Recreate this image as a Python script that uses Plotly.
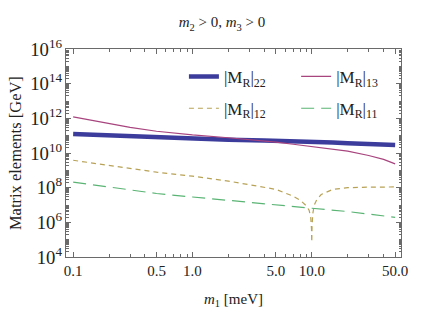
import plotly.graph_objects as go

# m1 [meV] grid and matrix elements [GeV]
m1 = [0.1, 0.2, 0.3, 0.5, 1.0, 2.0, 4.0, 5.0, 7.0, 10.0, 15.0, 20.0, 30.0, 40.0, 50.0]
mr22 = [1.23e11, 1.0e11, 9.0e10, 7.6e10, 6.5e10, 5.8e10, 5.2e10, 5.1e10, 4.8e10, 4.5e10, 4.1e10,
        3.7e10, 3.3e10, 3.1e10, 2.9e10]
mr13 = [1.2e12, 5.2e11, 3.0e11, 1.8e11, 1.1e11, 7.6e10, 5.0e10, 4.2e10, 3.2e10, 2.35e10, 1.74e10,
        1.29e10, 7.2e9, 4.3e9, 2.35e9]

m1_12 = [0.1, 0.2, 0.5, 1.0, 2.0, 5.0, 7.0, 8.0, 9.0, 9.5, 9.8, 9.95, 10.0,
         10.05, 10.2, 10.5, 11.0, 12.0, 15.0, 20.0, 30.0, 50.0]
mr12 = [3.8e9, 2.0e9, 7.8e8, 4.6e8, 2.4e8, 8.0e7, 3.2e7, 1.9e7, 9.0e6, 5.0e6, 2.0e6, 4.0e5, 7.2e4,
        5.0e5, 3.2e6, 1.0e7, 2.0e7, 4.0e7, 8.0e7, 1.0e8, 1.07e8, 1.1e8]

m1_11 = [0.1, 0.2, 0.5, 1.0, 2.0, 5.0, 10.0, 20.0, 50.0]
mr11 = [2.1e8, 1.1e8, 4.6e7, 2.9e7, 1.8e7, 1.0e7, 6.5e6, 4.2e6, 1.95e6]

x_ticks = [0.1, 0.5, 1.0, 5.0, 10.0, 50.0]
x_ticklabels = ["0.1", "0.5", "1.0", "5.0", "10.0", "50.0"]
x_minor = [0.2, 0.3, 0.4, 0.6, 0.7, 0.8, 0.9, 2, 3, 4, 6, 7, 8, 9, 20, 30, 40]

FONT = "Liberation Serif"
FRAME = "#6a6a6a"

fig = go.Figure()
fig.add_trace(go.Scatter(x=m1, y=mr22, mode="lines", name="|M<sub>R</sub>|<sub>22</sub>",
                         line=dict(color="#3c3c9c", width=4.5), legend="legend"))
fig.add_trace(go.Scatter(x=m1, y=mr13, mode="lines", name="|M<sub>R</sub>|<sub>13</sub>",
                         line=dict(color="#a8447e", width=1.2), legend="legend2"))
fig.add_trace(go.Scatter(x=m1_12, y=mr12, mode="lines", name="|M<sub>R</sub>|<sub>12</sub>",
                         line=dict(color="#b8a256", width=1.2, dash="5px,4px"), legend="legend3"))
fig.add_trace(go.Scatter(x=m1_11, y=mr11, mode="lines", name="|M<sub>R</sub>|<sub>11</sub>",
                         line=dict(color="#5ab474", width=1.2, dash="13px,7px"), legend="legend4"))

leg = dict(xanchor="left", yanchor="middle", bgcolor="rgba(0,0,0,0)",
           font=dict(family=FONT, size=17, color="#222"))

# page body adds an 8px margin, so the figure is sized to fit inside the window
fig.update_layout(
    width=428, height=316,
    margin=dict(l=58, r=35, t=41, b=67, autoexpand=False),
    paper_bgcolor="white", plot_bgcolor="white",
    showlegend=True,
    font=dict(family=FONT, size=15, color="#222"),
    title=dict(text="<i>m</i><sub>2</sub> > 0, <i>m</i><sub>3</sub> > 0", x=0.5, xanchor="center",
               y=0.955, yanchor="middle", font=dict(size=15)),
    legend=dict(x=0.352, y=0.866, **leg),
    legend2=dict(x=0.687, y=0.866, **leg),
    legend3=dict(x=0.352, y=0.713, **leg),
    legend4=dict(x=0.687, y=0.713, **leg),
    xaxis=dict(type="log", range=[-1.06, 1.748], tickvals=x_ticks, ticktext=x_ticklabels,
               ticks="inside", ticklen=5, tickcolor=FRAME, showline=True, linecolor=FRAME,
               linewidth=1, mirror="allticks", showgrid=False, zeroline=False,
               tickfont=dict(size=15), automargin=False,
               minor=dict(tickvals=x_minor, ticks="inside", ticklen=3, tickcolor=FRAME, showgrid=False),
               title=dict(text="<i>m</i><sub>1</sub> [meV]", font=dict(size=15), standoff=15)),
    yaxis=dict(type="log", range=[4, 16], dtick=2, exponentformat="power",
               ticks="inside", ticklen=5, tickcolor=FRAME, showline=True, linecolor=FRAME,
               linewidth=1, mirror="allticks", showgrid=False, zeroline=False,
               tickfont=dict(size=15), automargin=False,
               minor=dict(dtick="D1", ticks="inside", ticklen=2.5, tickcolor=FRAME, showgrid=False)),
)
fig.add_annotation(text="Matrix elements [GeV]", textangle=-90, xref="paper", yref="paper",
                   x=-0.152, y=0.5, xanchor="center", yanchor="middle", showarrow=False,
                   font=dict(family=FONT, size=16.5, color="#222"))

fig.write_html("out.html")
